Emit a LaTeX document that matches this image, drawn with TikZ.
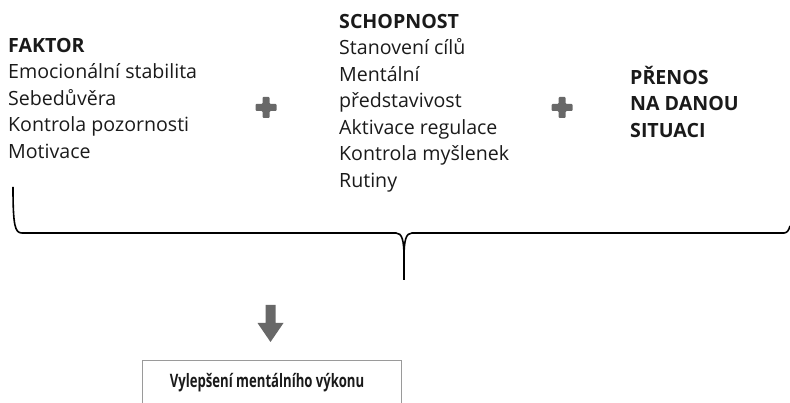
\documentclass[tikz,border=0pt]{standalone}
\usepackage{fontspec}
\setmainfont{Open Sans}
\usepackage{tikz}
\usetikzlibrary{positioning}

\definecolor{txtgray}{HTML}{1A1A1A}
\definecolor{signgray}{HTML}{686868}
\definecolor{boxgray}{HTML}{9A9A9A}

% fixed height of every first line, so that the nodes line up by baseline
\newcommand{\topfix}{\rule{0pt}{16pt}}

\tikzset{
  listtext/.style={anchor=north west, inner sep=0pt, align=left, text=txtgray,
    font=\fontsize{19.6}{26.5}\selectfont},
  plussign/.style={fill=signgray, draw=none, rounded corners=1pt},
  resultbox/.style={draw=boxgray, line width=1.4pt, minimum width=259pt, minimum height=60pt,
    anchor=north west, inner sep=0pt},
}

\begin{document}
\begin{tikzpicture}[x=1pt,y=-1pt]
	\useasboundingbox (0,0) rectangle (790,403);
	% the three columns
	\node[listtext] (faktor) at (8,36) {\topfix\textbf{FAKTOR}\\Emocionální stabilita\\Sebedůvěra\\Kontrola pozornosti\\Motivace};
	\node[listtext] (schopnost) at (339,12) {\topfix\textbf{SCHOPNOST}\\Stanovení cílů\\Mentální\\představivost\\Aktivace regulace\\Kontrola myšlenek\\Rutiny};
	\node[listtext] (prenos) at (630,66) {\topfix\textbf{PŘENOS}\\\textbf{NA DANOU}\\\textbf{SITUACI}};
	% plus signs
	\foreach \cx in {266,562} {
		\fill[plussign] (\cx-3.5,97) -- (\cx+3.5,97) -- (\cx+3.5,104) -- (\cx+10.5,104) -- (\cx+10.5,111)
			-- (\cx+3.5,111) -- (\cx+3.5,118) -- (\cx-3.5,118) -- (\cx-3.5,111) -- (\cx-10.5,111)
			-- (\cx-10.5,104) -- (\cx-3.5,104) -- cycle;
	}
	% brace
	\coordinate (tip) at (404,280);
	\draw[line width=1.6pt] (13,187) .. controls (13,226) and (15,233) .. (22,233) -- (396,233)
		.. controls (402,233) and (404,240) .. (404,258) -- (tip);
	\draw[line width=1.6pt] (tip) -- (404,258) .. controls (404,240) and (406,233) .. (412,233)
		-- (784,233) .. controls (787,233) and (789,230) .. (790,226);
	% block arrow
	\fill[signgray] (265.5,305) -- (275.5,305) -- (275.5,323) -- (283.5,323) -- (270.5,342)
		-- (257.5,323) -- (265.5,323) -- cycle;
	% result
	\node[resultbox] (result) at (142,360) {};
	\node[anchor=base, inner sep=0pt, text=txtgray, font=\fontsize{18.5}{20}\selectfont\bfseries]
		(resulttext) at (267,388) {\scalebox{0.71}[1]{Vylepšení mentálního výkonu}};
\end{tikzpicture}
\end{document}
